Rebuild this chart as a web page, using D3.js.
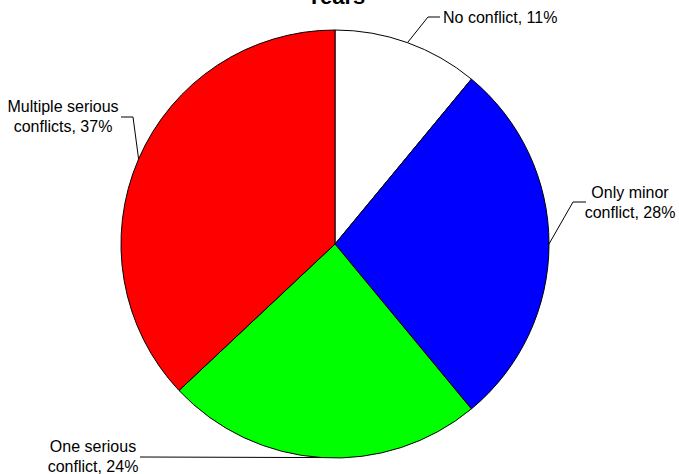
<!DOCTYPE html>
<html>
<head>
<meta charset="utf-8">
<script src="https://cdn.jsdelivr.net/npm/d3@7"></script>
<style>
  html, body { margin: 0; padding: 0; background: #fff; }
  svg { display: block; }
  text { font-family: "Liberation Sans", Arial, sans-serif; fill: #000; }
</style>
</head>
<body>
<svg id="chart" width="679" height="474"></svg>
<script>
// ---- data ----
const titleText = "Years";
const categories = ["No conflict", "Only minor conflict", "One serious conflict", "Multiple serious conflicts"];
const categoryLines = [["No conflict"], ["Only minor", "conflict"], ["One serious", "conflict"], ["Multiple serious", "conflicts"]];
const values = [11, 28, 24, 37];
const colors = ["#ffffff", "#0000ff", "#00ff00", "#ff0000"];

// ---- layout ----
const W = 679, H = 474;
const cx = 335, cy = 244, R = 214;
const fontSize = 16, lineH = 20;
// per-slice label layout: elbow point, line end, label block anchor
const labelLayout = [
  { elbow: [428, 17], end: [440, 17], tx: 443, ty: 17, anchor: "start" },
  { elbow: [573, 202], end: [586, 202], tx: 630, ty: 202, anchor: "middle" },
  { elbow: [140, 457], end: [140, 457], tx: 93, ty: 456, anchor: "middle" },
  { elbow: [133, 117], end: [121, 117], tx: 63, ty: 116, anchor: "middle" }
];

const svg = d3.select("#chart");

svg.append("text")
  .attr("x", 336).attr("y", 4)
  .attr("text-anchor", "middle")
  .attr("font-weight", "bold")
  .attr("font-size", 22)
  .text(titleText);

const pie = d3.pie().sort(null).value(d => d)(values);
const arc = d3.arc().innerRadius(0).outerRadius(R);
const edge = d3.arc().innerRadius(R).outerRadius(R);

const g = svg.append("g").attr("transform", `translate(${cx},${cy})`);
g.selectAll("path.slice").data(pie).join("path")
  .attr("class", "slice")
  .attr("d", arc)
  .attr("fill", (d, i) => colors[i])
  .attr("stroke", "#000")
  .attr("stroke-width", 1);

// leader lines
pie.forEach((d, i) => {
  const c = edge.centroid(d);
  const p0 = [cx + c[0], cy + c[1]];
  const L = labelLayout[i];
  svg.append("polyline")
    .attr("points", [p0, L.elbow, L.end].map(p => p.join(",")).join(" "))
    .attr("fill", "none")
    .attr("stroke", "#000")
    .attr("stroke-width", 1);

  const lines = categoryLines[i].slice();
  lines[lines.length - 1] = lines[lines.length - 1] + ", " + values[i] + "%";
  const t = svg.append("text")
    .attr("font-size", fontSize)
    .attr("text-anchor", L.anchor);
  const n = lines.length;
  lines.forEach((ln, k) => {
    t.append("tspan")
      .attr("x", L.tx)
      .attr("y", L.ty + (k - (n - 1) / 2) * lineH)
      .attr("dy", "0.35em")
      .text(ln);
  });
});
</script>
</body>
</html>
